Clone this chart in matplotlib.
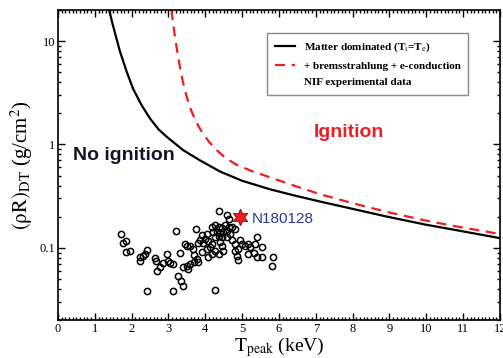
import numpy as np
import matplotlib
matplotlib.use('Agg')
import matplotlib.pyplot as plt
from matplotlib.lines import Line2D
from matplotlib.ticker import MultipleLocator, LogLocator, NullFormatter, FixedLocator, FixedFormatter

plt.rcParams['font.family'] = ['Liberation Serif', 'DejaVu Serif']
plt.rcParams['mathtext.fontset'] = 'stix'

# ignition boundaries
t_matter = [1.39, 1.47, 1.55, 1.68, 1.87, 2.04, 2.27, 2.50, 2.73, 2.96, 3.40, 3.86, 4.40,
            5.00, 5.76, 6.40, 7.12, 8.00, 8.94, 10.0, 10.73, 12.0]
rho_matter = [20.0, 15.2, 11.9, 8.0, 5.0, 3.45, 2.40, 1.78, 1.40, 1.18, 0.88, 0.70, 0.547,
              0.445, 0.368, 0.322, 0.280, 0.238, 0.200, 0.167, 0.150, 0.124]

t_brems = [3.08, 3.14, 3.21, 3.29, 3.38, 3.48, 3.60, 3.75, 3.92, 4.10, 4.31, 4.55, 4.85,
           5.25, 5.76, 6.40, 7.12, 8.00, 8.94, 10.0, 10.73, 12.0]
rho_brems = [20.0, 13.5, 9.2, 6.2, 4.2, 3.0, 2.2, 1.65, 1.30, 1.06, 0.88, 0.74, 0.635,
             0.555, 0.48, 0.40, 0.33, 0.27, 0.222, 0.183, 0.163, 0.136]

# NIF shots
t_nif = [1.70, 1.76, 1.85, 1.84, 1.96, 2.23, 2.23, 2.32, 2.41, 2.36, 2.64, 2.66, 2.68, 2.77,
         2.86, 2.95, 3.00, 3.04, 3.13, 3.21, 3.30, 3.27, 3.33, 3.39, 2.43, 3.12, 3.40, 3.50,
         3.54, 3.59, 3.45, 3.51, 3.59, 3.66, 3.70, 3.75, 3.77, 3.68, 3.81, 4.36, 4.58, 4.63,
         4.18, 4.27, 4.36, 4.45, 4.54, 4.63, 4.72, 4.81, 4.22, 4.31, 4.40, 4.49, 4.58, 4.67,
         4.27, 4.36, 4.45, 4.58, 3.90, 4.04, 3.99, 3.86, 3.95, 4.08, 4.18, 4.13, 4.04, 4.40,
         4.45, 4.72, 4.81, 4.95, 4.99, 5.08, 5.17, 5.22, 5.35, 5.40, 5.54, 4.90, 4.81, 4.27,
         4.18, 4.36, 4.49, 3.90, 3.81, 5.17, 5.31, 5.40, 5.54, 4.86, 4.90, 5.85, 5.82, 4.27,
         4.08]
rho_nif = [0.135, 0.111, 0.116, 0.092, 0.094, 0.081, 0.075, 0.084, 0.096, 0.087, 0.080, 0.074,
           0.060, 0.065, 0.071, 0.088, 0.075, 0.071, 0.070, 0.147, 0.089, 0.053, 0.048, 0.043,
           0.038, 0.038, 0.065, 0.067, 0.063, 0.070, 0.109, 0.103, 0.105, 0.098, 0.086, 0.153,
           0.078, 0.073, 0.111, 0.227, 0.206, 0.191, 0.159, 0.165, 0.159, 0.156, 0.165, 0.159,
           0.159, 0.153, 0.142, 0.142, 0.139, 0.142, 0.145, 0.137, 0.127, 0.129, 0.127, 0.127,
           0.132, 0.135, 0.122, 0.118, 0.111, 0.116, 0.109, 0.102, 0.098, 0.114, 0.105, 0.118,
           0.109, 0.120, 0.109, 0.105, 0.109, 0.102, 0.109, 0.127, 0.102, 0.098, 0.094, 0.094,
           0.087, 0.087, 0.094, 0.091, 0.073, 0.087, 0.089, 0.082, 0.081, 0.084, 0.076, 0.081,
           0.067, 0.039, 0.081]

shot_name = 'N180128'
t_shot = 4.95
rho_shot = 0.199

fig = plt.figure(figsize=(5.03, 3.58), dpi=100)
ax = fig.add_axes([0.1153, 0.1061, 0.8787, 0.8659])

ax.plot(t_matter, rho_matter, color='black', lw=1.6)
ax.plot(t_brems, rho_brems, color='#ee1c25', lw=1.6, ls=(0, (4.5, 3)))
ax.plot(t_nif, rho_nif, 'o', mfc='none', mec='black', ms=4.5, mew=1.1)
ax.plot([t_shot], [rho_shot], marker=(6, 1, 0), ms=12, mfc='#ee1c25', mec='#8b0000', mew=0.6, ls='none')
ax.text(t_shot + 0.3, rho_shot * 0.96, shot_name, color='#2b3a8c', fontsize=11,
        family='Liberation Sans', va='center', ha='left')

ax.text(0.40, 0.787, 'No ignition', color='#15152a', fontsize=14, fontweight='bold',
        family='Liberation Sans', va='center', ha='left')
ax.text(6.94, 1.30, 'Ignition', color='#ee1c25', fontsize=14, fontweight='bold',
        family='Liberation Sans', va='center', ha='left')

ax.set_xlim(0, 12)
ax.set_ylim(0.02, 20)
ax.set_yscale('log')
ax.xaxis.set_major_locator(MultipleLocator(1))
ax.xaxis.set_minor_locator(MultipleLocator(0.1))
ax.yaxis.set_major_locator(FixedLocator([0.1, 1, 10]))
ax.yaxis.set_major_formatter(FixedFormatter(['0.1', '1', '10']))
ax.yaxis.set_minor_locator(LogLocator(base=10, subs=np.arange(2, 10)))
ax.yaxis.set_minor_formatter(NullFormatter())
ax.tick_params(which='both', direction='in', top=True, right=True, labelsize=9, width=1)
ax.tick_params(which='major', length=5, pad=2)
ax.tick_params(which='minor', length=2.5)
for s in ax.spines.values():
    s.set_linewidth(1.2)

ax.set_xlabel(r'$\mathrm{T_{peak}}$ (keV)', fontsize=14, labelpad=0)
ax.set_ylabel(r'$\mathrm{(\rho R)_{DT}}$ (g/cm$^2$)', fontsize=15, labelpad=3)

handles = [Line2D([], [], color='black', lw=1.6),
           Line2D([], [], color='#ee1c25', lw=1.6, ls=(0, (4.5, 3))),
           Line2D([], [], ls='none')]
labels = [r'Matter dominated (T$_\mathrm{i}$=T$_\mathrm{e}$)',
          '+ bremsstrahlung + e-conduction',
          'NIF experimental data']
leg = ax.legend(handles, labels, loc='upper right', bbox_to_anchor=(0.928, 0.926),
                borderaxespad=0,
                prop={'family': 'Liberation Serif', 'weight': 'bold', 'size': 8},
                fancybox=False, edgecolor='#888888', framealpha=1, handlelength=1.8,
                labelspacing=0.6, borderpad=0.7)
leg.get_frame().set_linewidth(1.0)

fig.savefig('out.png', dpi=100)
